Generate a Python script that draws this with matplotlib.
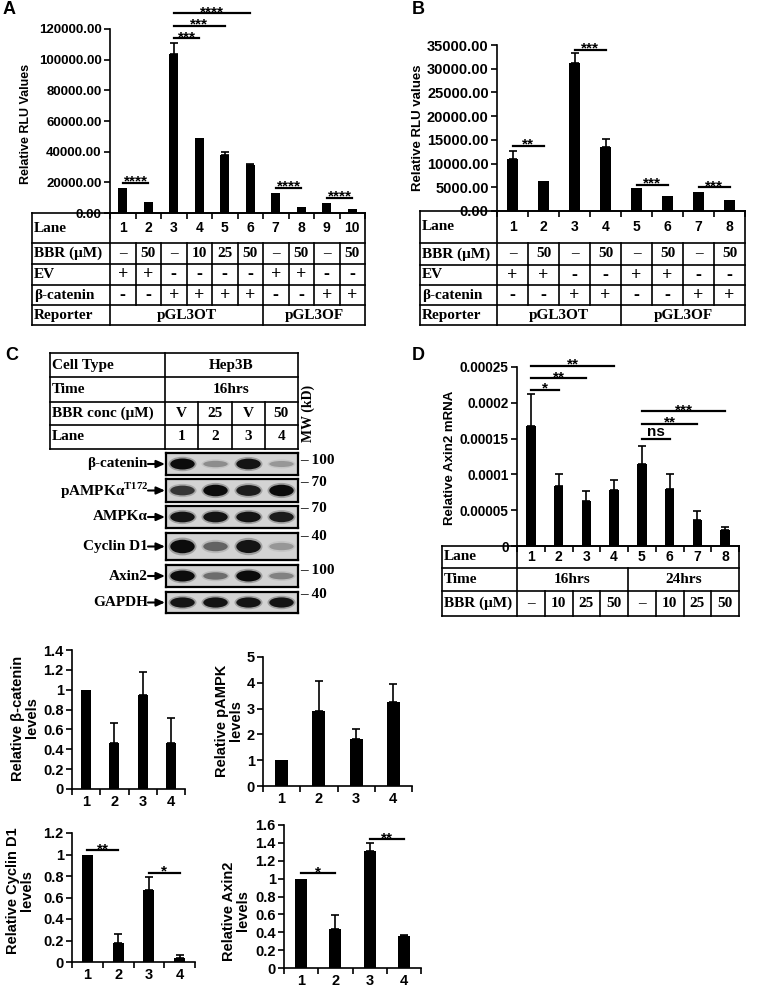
import numpy as np
import matplotlib
matplotlib.use("Agg")
import matplotlib.pyplot as plt
from matplotlib.patches import Ellipse

W, H = 759, 993
plt.rcParams['font.family'] = ['Liberation Sans', 'DejaVu Sans']
plt.rcParams['font.weight'] = 'bold'
plt.rcParams['axes.linewidth'] = 1.2
SERIF = ['Liberation Serif', 'DejaVu Serif']
SANS = ['Liberation Sans', 'DejaVu Sans']

# ---- panel A: reporter assay, lanes 1-10
lanes_A = [1, 2, 3, 4, 5, 6, 7, 8, 9, 10]
rlu_A = [16200, 7300, 103600, 48600, 37500, 31000, 13000, 4000, 6600, 2300]
err_A = [0, 0, 7400, 0, 2000, 1100, 0, 0, 0, 0]
sig_A = [(1, 2, 19500, '****'), (3, 4, 114000, '***'), (3, 5, 122000, '***'),
         (3, 6, 130300, '****'), (7, 8, 16300, '****'), (9, 10, 9800, '****')]
bbr_A = ['–', '50', '–', '10', '25', '50', '–', '50', '–', '50']
ev_A = ['+', '+', '-', '-', '-', '-', '+', '+', '-', '-']
bcat_A = ['-', '-', '+', '+', '+', '+', '-', '-', '+', '+']
reporter_A = [(1, 6, 'pGL3OT'), (7, 10, 'pGL3OF')]
ticks_A = [0, 20000, 40000, 60000, 80000, 100000, 120000]

# ---- panel B: lanes 1-8
lanes_B = [1, 2, 3, 4, 5, 6, 7, 8]
rlu_B = [11050, 6400, 31250, 13500, 4850, 3150, 4050, 2300]
err_B = [1600, 0, 2050, 1750, 0, 0, 0, 0]
sig_B = [(1, 2, 13700, '**'), (3, 4, 34000, '***'), (5, 6, 5500, '***'), (7, 8, 5000, '***')]
bbr_B = ['–', '50', '–', '50', '–', '50', '–', '50']
ev_B = ['+', '+', '-', '-', '+', '+', '-', '-']
bcat_B = ['-', '-', '+', '+', '-', '-', '+', '+']
reporter_B = [(1, 4, 'pGL3OT'), (5, 8, 'pGL3OF')]
ticks_B = [0, 5000, 10000, 15000, 20000, 25000, 30000, 35000]

# ---- panel C: western blot
bbr_C = ['V', '25', 'V', '50']
blot_names = ['β-catenin', r'pAMPKα$^{\mathregular{T172}}$', 'AMPKα', 'Cyclin D1', 'Axin2', 'GAPDH']
blot_mw = ['100', '70', '70', '40', '100', '40']
band_bcat = [1.0, 0.3, 0.95, 0.25]
band_pampk = [0.75, 1.0, 0.9, 1.0]
band_ampk = [0.95, 0.95, 0.95, 0.9]
band_cycd1 = [1.0, 0.5, 0.95, 0.25]
band_axin2 = [1.0, 0.45, 1.0, 0.35]
band_gapdh = [0.95, 0.95, 0.95, 0.95]

# ---- panel D: Axin2 mRNA
lanes_D = [1, 2, 3, 4, 5, 6, 7, 8]
axin2_D = [0.000167, 0.000084, 0.000063, 0.000078, 0.000114, 0.000079, 0.000036, 0.000022]
err_D = [0.000045, 0.000017, 0.000014, 0.000014, 0.000026, 0.000021, 0.000013, 0.000004]
sig_D = [(1, 2, 0.000218, '*'), (1, 3, 0.000234, '**'), (1, 4, 0.000252, '**'),
         (5, 6, 0.000150, 'ns'), (5, 7, 0.000171, '**'), (5, 8, 0.000188, '***')]
time_D = [(1, 4, '16hrs'), (5, 8, '24hrs')]
bbr_D = ['–', '10', '25', '50', '–', '10', '25', '50']
ticks_D = [0, 0.00005, 0.0001, 0.00015, 0.0002, 0.00025]
ticklabels_D = ['0', '0.00005', '0.0001', '0.00015', '0.0002', '0.00025']

# ---- densitometry
lanes_q = [1, 2, 3, 4]
bcat_q = [1.0, 0.46, 0.95, 0.46]
bcat_qerr = [0, 0.2, 0.23, 0.26]
pampk_q = [1.0, 2.9, 1.82, 3.27]
pampk_qerr = [0, 1.17, 0.38, 0.68]
cycd1_q = [1.0, 0.175, 0.67, 0.035]
cycd1_qerr = [0, 0.085, 0.12, 0.03]
sig_cycd1 = [(1, 2, 1.04, '**'), (3, 4, 0.83, '*')]
axin2_q = [1.0, 0.435, 1.31, 0.355]
axin2_qerr = [0, 0.16, 0.09, 0.015]
sig_axin2 = [(1, 2, 1.06, '*'), (3, 4, 1.44, '**')]

fig = plt.figure(figsize=(W / 100, H / 100), dpi=100)
ov = fig.add_axes([0, 0, 1, 1])
ov.set_xlim(0, W)
ov.set_ylim(H, 0)
ov.axis('off')


def px_axes(l, t, r, b):
    return fig.add_axes([l / W, 1 - b / H, (r - l) / W, (b - t) / H])


def bar_chart(ax, lanes, vals, errs, sigs, yticks, ylabels, fs, xlabels=False, star_fs=11):
    lanes = np.asarray(lanes)
    vals = np.asarray(vals, float)
    errs = np.asarray(errs, float)
    ax.bar(lanes, vals, width=0.35, color='black')
    m = errs > 0
    ax.errorbar(lanes[m], vals[m], yerr=[np.zeros(m.sum()), errs[m]], fmt='none',
                ecolor='black', elinewidth=1.2, capsize=3, capthick=1.2)
    ax.set_xlim(0.5, lanes[-1] + 0.5)
    ax.set_ylim(yticks[0], yticks[-1])
    ax.set_yticks(yticks, labels=ylabels)
    ax.tick_params(axis='y', direction='out', length=4, width=1.2, labelsize=fs, pad=2)
    ax.set_xticks(lanes, labels=[str(v) for v in lanes] if xlabels else [])
    ax.set_xticks(np.arange(0.5, lanes[-1] + 1, 1.0), minor=True)
    ax.tick_params(axis='x', which='major', length=0, labelsize=fs, pad=4)
    ax.tick_params(axis='x', which='minor', direction='out', length=4, width=1.2)
    for s in ['top', 'right']:
        ax.spines[s].set_visible(False)
    ax.patch.set_alpha(0)
    for a, b, y, txt in sigs:
        ax.plot([a, b], [y, y], color='black', lw=1.6, clip_on=False)
        if txt == 'ns':
            ax.text((a + b) / 2, y, txt, ha='center', va='bottom', fontsize=11, clip_on=False)
        else:
            ax.annotate(txt, xy=((a + b) / 2, y), xytext=(0, -2), textcoords='offset points',
                        ha='center', va='baseline', fontsize=star_fs, annotation_clip=False)


def table(ax, x_left, n, heights, rows, pad):
    edges = np.concatenate([[0], np.cumsum(heights)])
    xr = n + 0.5
    ax.set_xlim(x_left, xr)
    ax.set_ylim(edges[-1], 0)
    ax.axis('off')
    kw = dict(color='black', lw=1.2, clip_on=False)
    for y in edges:
        ax.plot([x_left, xr], [y, y], **kw)
    for x in [x_left, 0.5, xr]:
        ax.plot([x, x], [0, edges[-1]], **kw)
    for k, (label, cells, sep, fam, fs) in enumerate(rows):
        y0, y1 = edges[k], edges[k + 1]
        yc = (y0 + y1) / 2
        ax.text(x_left + pad, yc, label, ha='left', va='center', family=SERIF, fontsize=11)
        for a, b, txt in cells:
            ax.text((a + b) / 2, yc, txt, ha='center', va='center', family=fam, fontsize=fs)
            if sep and a > 1:
                ax.plot([a - 0.5, a - 0.5], [y0, y1], **kw)


def per_lane(lanes, items):
    return [(i, i, t) for i, t in zip(lanes, items)]


# ---------------- panel A
axA = px_axes(110, 29, 365, 213)
bar_chart(axA, lanes_A, rlu_A, err_A, sig_A, ticks_A, [f'{v:.2f}' for v in ticks_A], 9.5)
tA = px_axes(32, 213, 365, 325)
table(tA, 0.5 - 78 / 25.5, 10, [30, 21, 21, 20, 20], [
    ('Lane', per_lane(lanes_A, [str(v) for v in lanes_A]), False, SANS, 10),
    ('BBR (μM)', per_lane(lanes_A, bbr_A), True, SERIF, 11),
    ('EV', per_lane(lanes_A, ev_A), True, SERIF, 13),
    ('β-catenin', per_lane(lanes_A, bcat_A), True, SERIF, 13),
    ('Reporter', reporter_A, True, SERIF, 11)], 0.08)
ov.text(26, 124, 'Relative RLU Values', rotation=90, ha='center', va='center', fontsize=9)
ov.text(9, 10, 'A', ha='center', va='center', fontsize=13)

# ---------------- panel B
axB = px_axes(497, 45, 745, 211)
bar_chart(axB, lanes_B, rlu_B, err_B, sig_B, ticks_B, [f'{v:.2f}' for v in ticks_B], 10.5)
tB = px_axes(420, 211, 745, 325)
table(tB, 0.5 - 77 / 31.0, 8, [32, 22, 20, 20, 20], [
    ('Lane', per_lane(lanes_B, [str(v) for v in lanes_B]), False, SANS, 10),
    ('BBR (μM)', per_lane(lanes_B, bbr_B), True, SERIF, 11),
    ('EV', per_lane(lanes_B, ev_B), True, SERIF, 13),
    ('β-catenin', per_lane(lanes_B, bcat_B), True, SERIF, 13),
    ('Reporter', reporter_B, True, SERIF, 11)], 0.07)
ov.text(418, 128, 'Relative RLU values', rotation=90, ha='center', va='center', fontsize=9.5)
ov.text(418, 10, 'B', ha='center', va='center', fontsize=13)

# ---------------- panel C
ov.text(12, 355, 'C', ha='center', va='center', fontsize=13)
tC = px_axes(50, 353, 298, 449)
table(tC, 0.5 - 115 / 33.25, 4, [24, 25, 23, 24], [
    ('Cell Type', [(1, 4, 'Hep3B')], False, SERIF, 11),
    ('Time', [(1, 4, '16hrs')], False, SERIF, 11),
    ('BBR conc (μM)', per_lane(lanes_q, bbr_C), True, SERIF, 11),
    ('Lane', per_lane(lanes_q, [str(v) for v in lanes_q]), True, SERIF, 11)], 0.06)
ov.text(308, 413, 'MW (kD)', rotation=90, ha='center', va='center', family=SERIF, fontsize=10)

blot_rows = [(453, 475), (479, 502), (506, 528), (533, 560), (565, 587), (592, 613)]
mw_y = [460, 482, 508, 537, 570, 595]
bands = [band_bcat, band_pampk, band_ampk, band_cycd1, band_axin2, band_gapdh]
for name, mw, (t, b), my, inten in zip(blot_names, blot_mw, blot_rows, mw_y, bands):
    bx = px_axes(166, t, 298, b)
    bx.set_xlim(0.5, 4.5)
    bx.set_ylim(0, 1)
    bx.set_facecolor('#d3d3d3')
    bx.set_xticks([])
    bx.set_yticks([])
    for s in bx.spines.values():
        s.set_linewidth(1.6)
    for lane, v in zip(lanes_q, inten):
        bx.add_patch(Ellipse((lane, 0.5), 0.85, 0.66 * (0.5 + 0.5 * v), color='black', alpha=0.25 * v, lw=0))
        bx.add_patch(Ellipse((lane, 0.5), 0.74, 0.5 * (0.4 + 0.6 * v), color='black', alpha=0.92 * v, lw=0))
    yc = (t + b) / 2
    ov.text(148, yc, name, ha='right', va='center', family=SERIF, fontsize=11)
    ov.annotate('', xy=(165, yc), xytext=(148, yc),
                arrowprops=dict(arrowstyle='-|>,head_length=0.5,head_width=0.22', color='black',
                                lw=1.5, shrinkA=0, shrinkB=0))
    ov.text(300, my, '– ' + mw, ha='left', va='center', family=SERIF, fontsize=11)

# ---------------- panel D
axD = px_axes(517, 367, 739, 546)
bar_chart(axD, lanes_D, axin2_D, err_D, sig_D, ticks_D, ticklabels_D, 9.8)
tD = px_axes(442, 546, 739, 616)
table(tD, 0.5 - 75 / 27.75, 8, [22, 23, 25], [
    ('Lane', per_lane(lanes_D, [str(v) for v in lanes_D]), False, SANS, 10),
    ('Time', time_D, True, SERIF, 11),
    ('BBR (μM)', per_lane(lanes_D, bbr_D), True, SERIF, 11)], 0.07)
ov.text(450, 458, 'Relative Axin2 mRNA', rotation=90, ha='center', va='center', fontsize=9.5)
ov.text(418, 355, 'D', ha='center', va='center', fontsize=13)

# ---------------- densitometry charts
fmt = lambda ts: [f'{v:g}' for v in ts]
t1 = [0, 0.2, 0.4, 0.6, 0.8, 1.0, 1.2, 1.4]
ax1 = px_axes(72, 650, 185, 789)
bar_chart(ax1, lanes_q, bcat_q, bcat_qerr, [], t1, fmt(t1), 10.5, xlabels=True)
ov.text(25, 718, 'Relative β-catenin\nlevels', rotation=90, ha='center', va='center',
        fontsize=10.5, linespacing=1.0)

t2 = [0, 1, 2, 3, 4, 5]
ax2 = px_axes(263, 657, 412, 786)
bar_chart(ax2, lanes_q, pampk_q, pampk_qerr, [], t2, fmt(t2), 10.5, xlabels=True)
ov.text(229, 721, 'Relative pAMPK\nlevels', rotation=90, ha='center', va='center',
        fontsize=10.5, linespacing=1.0)

t3 = [0, 0.2, 0.4, 0.6, 0.8, 1.0, 1.2]
ax3 = px_axes(72, 833, 195, 962)
bar_chart(ax3, lanes_q, cycd1_q, cycd1_qerr, sig_cycd1, t3, fmt(t3), 10.5, xlabels=True)
ov.text(20, 891, 'Relative Cyclin D1\nlevels', rotation=90, ha='center', va='center',
        fontsize=10.5, linespacing=1.0)

t4 = [0, 0.2, 0.4, 0.6, 0.8, 1.0, 1.2, 1.4, 1.6]
ax4 = px_axes(284, 825, 421, 968)
bar_chart(ax4, lanes_q, axin2_q, axin2_qerr, sig_axin2, t4, fmt(t4), 10.5, xlabels=True)
ov.text(236, 911, 'Relative Axin2\nlevels', rotation=90, ha='center', va='center',
        fontsize=10.5, linespacing=1.0)

fig.savefig('out.png', dpi=100)
